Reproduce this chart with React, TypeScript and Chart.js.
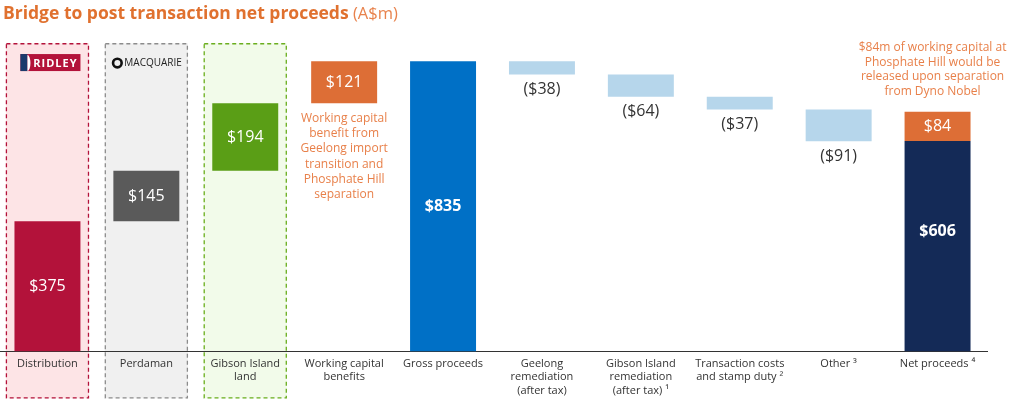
import { useEffect, useRef } from "react";
import { Chart, registerables } from "chart.js";

Chart.register(...registerables);

const categories: string[][] = [
  ["Distribution"],
  ["Perdaman"],
  ["Gibson Island", "land"],
  ["Working capital", "benefits"],
  ["Gross proceeds"],
  ["Geelong", "remediation", "(after tax)"],
  ["Gibson Island", "remediation", "(after tax) ¹"],
  ["Transaction costs", "and stamp duty ²"],
  ["Other ³"],
  ["Net proceeds ⁴"],
];
const stepValues = [375, 145, 194, 121, 835, -38, -64, -37, -91, 606];
const stepKinds = ["up", "up", "up", "up", "total", "down", "down", "down", "down", "total"];
const netAddOn = 84;
const barColors = ["#B3123A", "#5A5A5A", "#5A9E16", "#DD6E36", "#0070C6", "#B6D6EB", "#B6D6EB", "#B6D6EB", "#B6D6EB", "#142A57"];
const addOnColor = "#DD6E36";
const boldLabels = [false, false, false, false, true, false, false, false, false, true];

const highlightCols = [
  { idx: 0, fill: "#FDE4E6", stroke: "#B3123A" },
  { idx: 1, fill: "#F0F0F0", stroke: "#8C8C8C" },
  { idx: 2, fill: "#F2FBEA", stroke: "#6AAE1E" },
];
const workingCapNote = ["Working capital", "benefit from", "Geelong import", "transition and", "Phosphate Hill", "separation"];
const netNote = ["$84m of working capital at", "Phosphate Hill would be", "released upon separation", "from Dyno Nobel"];
const titleMain = "Bridge to post transaction net proceeds";
const titleUnit = " (A$m)";

const FONT = "'Open Sans', sans-serif";

function buildFloating() {
  let running = 0;
  const out: [number, number][] = [];
  stepValues.forEach((v, i) => {
    const k = stepKinds[i];
    if (k === "up") {
      out.push([running, running + v]);
      running += v;
    } else if (k === "total") {
      out.push([0, v]);
      running = v;
    } else {
      out.push([running + v, running]);
      running += v;
    }
  });
  return out;
}

const fmt = (v: number) => (v < 0 ? `($${Math.abs(v)})` : `$${v}`);

export default function App() {
  const ref = useRef<HTMLCanvasElement>(null);
  useEffect(() => {
    if (!ref.current) return;
    const floating = buildFloating();
    const last = categories.length - 1;
    const addOnData: ([number, number] | null)[] = categories.map((_, i) =>
      i === last ? [stepValues[last], stepValues[last] + netAddOn] : null
    );

    const decor = {
      id: "decor",
      beforeDraw(chart: any) {
        const { ctx } = chart;
        const x = chart.scales.x;
        const y = chart.scales.y;
        const cw = x.getPixelForValue(1) - x.getPixelForValue(0);
        ctx.save();
        highlightCols.forEach((h) => {
          const cx = x.getPixelForValue(h.idx);
          const l = cx - cw * 0.42;
          const r = cx + cw * 0.42;
          const t = y.getPixelForValue(887);
          const b = chart.chartArea.bottom + 47;
          ctx.fillStyle = h.fill;
          ctx.fillRect(l, t, r - l, b - t);
          ctx.setLineDash([4, 3]);
          ctx.lineWidth = 1.3;
          ctx.strokeStyle = h.stroke;
          ctx.strokeRect(l + 0.5, t + 0.5, r - l - 1, b - t - 1);
          ctx.setLineDash([]);
        });
        // logos
        const rx = x.getPixelForValue(0);
        const ly = y.getPixelForValue(830);
        ctx.fillStyle = "#B3123A";
        ctx.fillRect(rx - 27, ly - 9, 60, 17);
        ctx.fillStyle = "#1B3A6B";
        ctx.fillRect(rx - 27, ly - 9, 7, 17);
        ctx.fillStyle = "#FFFFFF";
        ctx.beginPath();
        ctx.ellipse(rx - 20, ly, 3, 8, 0, -Math.PI / 2, Math.PI / 2);
        ctx.fill();
        ctx.fillStyle = "#FFFFFF";
        ctx.font = `bold 11px ${FONT}`;
        ctx.textAlign = "center";
        ctx.textBaseline = "middle";
        (ctx as any).letterSpacing = "1px";
        ctx.fillText("RIDLEY", rx + 8, ly + 0.5);
        (ctx as any).letterSpacing = "0px";

        const mx = x.getPixelForValue(1);
        ctx.strokeStyle = "#111";
        ctx.lineWidth = 2.6;
        ctx.beginPath();
        ctx.arc(mx - 29, ly, 4.3, 0, Math.PI * 2);
        ctx.stroke();
        ctx.fillStyle = "#222";
        ctx.textAlign = "left";
        ctx.font = `10px ${FONT}`;
        ctx.fillText("MACQUARIE", mx - 22, ly + 0.5);
        ctx.restore();
      },
      afterDatasetsDraw(chart: any) {
        const { ctx } = chart;
        const x = chart.scales.x;
        const y = chart.scales.y;
        ctx.save();
        ctx.textAlign = "center";
        ctx.textBaseline = "middle";
        floating.forEach(([a, b], i) => {
          const cx = x.getPixelForValue(i);
          const v = stepValues[i];
          ctx.font = `${boldLabels[i] ? "bold " : ""}16px ${FONT}`;
          if (stepKinds[i] === "down") {
            ctx.fillStyle = "#333333";
            ctx.fillText(fmt(v), cx, y.getPixelForValue(a) + 15);
          } else {
            ctx.fillStyle = "#FFFFFF";
            let py = y.getPixelForValue((a + b) / 2);
            if (i === last) py -= 15;
            ctx.fillText(fmt(v), cx, py);
          }
        });
        // add-on label
        const na = stepValues[last];
        ctx.font = `16px ${FONT}`;
        ctx.fillStyle = "#FFFFFF";
        ctx.fillText(fmt(netAddOn), x.getPixelForValue(last), y.getPixelForValue(na + netAddOn / 2));

        // notes
        ctx.fillStyle = "#E8804A";
        ctx.font = `12px ${FONT}`;
        const wcx = x.getPixelForValue(3);
        const wcb = y.getPixelForValue(floating[3][0]);
        workingCapNote.forEach((s, k) => ctx.fillText(s, wcx, wcb + 15 + k * 15.3));
        const nx = x.getPixelForValue(last) - 5;
        const nt = y.getPixelForValue(na + netAddOn);
        netNote.forEach((s, k) => ctx.fillText(s, nx, nt - 64 + k * 14.5));

        // title
        ctx.textAlign = "left";
        ctx.textBaseline = "middle";
        ctx.font = `bold 17.5px ${FONT}`;
        ctx.fillStyle = "#E0712F";
        ctx.fillText(titleMain, 5, 14);
        const w = ctx.measureText(titleMain).width;
        ctx.font = `16.5px ${FONT}`;
        ctx.fillStyle = "#E8824C";
        ctx.fillText(titleUnit, 5 + w, 14);
        ctx.restore();
      },
    };

    const chart = new Chart(ref.current, {
      type: "bar",
      data: {
        labels: categories as any,
        datasets: [
          {
            data: floating as any,
            backgroundColor: barColors,
            grouped: false,
            categoryPercentage: 1,
            barPercentage: 0.667,
            borderSkipped: false,
          } as any,
          {
            data: addOnData as any,
            backgroundColor: addOnColor,
            grouped: false,
            categoryPercentage: 1,
            barPercentage: 0.667,
          } as any,
        ],
      },
      options: {
        animation: false,
        responsive: false,
        devicePixelRatio: 1,
        layout: { padding: { top: 4, bottom: 4, left: 0, right: 32 } },
        plugins: { legend: { display: false }, tooltip: { enabled: false }, title: { display: false } },
        scales: {
          x: {
            grid: { display: false, drawTicks: false },
            border: { display: true, color: "#333333", width: 1 },
            ticks: {
              color: "#333333",
              font: { family: FONT, size: 11, lineHeight: 1.2 },
              padding: 6,
              maxRotation: 0,
              autoSkip: false,
            },
          },
          y: { display: false, min: 0, max: 1000 },
        },
      },
      plugins: [decor],
    });
    return () => chart.destroy();
  }, []);
  return (
    <div style={{ position: "absolute", left: -2, top: 0, width: 1021, height: 399, overflow: "hidden" }}>
      <canvas ref={ref} width={1021} height={407} />
    </div>
  );
}
